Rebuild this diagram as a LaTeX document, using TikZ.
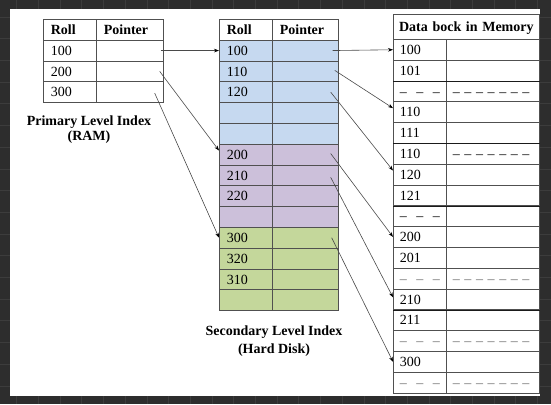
\documentclass[tikz,border=0pt]{standalone}
\usepackage{fontspec}
\setmainfont{Liberation Serif}
\usetikzlibrary{arrows.meta,positioning,calc}
\definecolor{backdrop}{HTML}{2D2D2D}
\definecolor{backgrid}{HTML}{3C3C3C}
\definecolor{rule}{HTML}{505050}
\definecolor{darkrule}{HTML}{1A1A1A}
\definecolor{diskblue}{HTML}{C6D9F0}
\definecolor{diskpurple}{HTML}{CCC0DA}
\definecolor{diskgreen}{HTML}{C4D79B}
\definecolor{linkgray}{HTML}{4A4A4A}
\definecolor{dashgray}{HTML}{707070}
\newcommand{\dashL}{--\hspace{9.5pt}--\hspace{9.5pt}--}
\newcommand{\dashR}{--\hspace{4.6pt}--\hspace{4.6pt}--\hspace{4.6pt}--\hspace{4.6pt}--\hspace{4.6pt}--\hspace{4.6pt}--}
\tikzset{
  cell/.style={draw=rule,line width=0.7pt,anchor=north west,
               inner xsep=7.5pt,inner ysep=0pt,minimum height=20.8pt,
               text height=9.8pt,text depth=0.5pt,align=left,
               font=\fontsize{14}{16}\selectfont},
  head/.style={font=\bfseries\fontsize{14}{16}\selectfont},
  caption/.style={align=center,font=\bfseries\fontsize{14}{15}\selectfont},
  thickrule/.style={draw=darkrule,line width=1.2pt},
  ptrarrow/.style={-{Stealth[length=5pt,width=3.6pt,color=black]},
                   draw=linkgray,line width=0.6pt}
}
\begin{document}
\begin{tikzpicture}[x=1pt,y=-1pt]
  \useasboundingbox (0,0) rectangle (551,404);
  % dark backdrop with its faint grid
  \fill[backdrop] (0,0) rectangle (551,404);
  \foreach \g in {0,...,25}
    \draw[backgrid,line width=0.8pt] ({16.7+\g*21.7},0) -- ({16.7+\g*21.7},404);
  \foreach \g in {0,...,18}
    \draw[backgrid,line width=0.8pt] (0,{17+\g*21.7}) -- (551,{17+\g*21.7});
  \fill[white] (10,9) rectangle (540,396);

  % primary level index
  \node[cell,head,minimum width=53pt,text width=38pt] (prollh) at (43,19) {Roll};
  \node[cell,head,minimum width=67pt,text width=52pt] (pptrh) at (96,19) {Pointer};
  \foreach \i/\r in {1/100,2/200,3/300} {
    \node[cell,minimum width=53pt,text width=38pt] (p\i) at (43,{19+\i*20.8}) {\r};
    \node[cell,minimum width=67pt] (pp\i) at (96,{19+\i*20.8}) {};
  }
  \node[caption] (plabel) at (89,130) {Primary Level Index\\(RAM)};

  % secondary level index
  \node[cell,head,minimum width=53pt,text width=38pt] (srollh) at (219,19) {Roll};
  \node[cell,head,minimum width=66pt,text width=51pt] (sptrh) at (272,19) {Pointer};
  \foreach \i/\r/\c in {1/100/diskblue,2/110/diskblue,3/120/diskblue,
                        4/{}/diskblue,5/{}/diskblue,
                        6/200/diskpurple,7/210/diskpurple,8/220/diskpurple,9/{}/diskpurple,
                        10/300/diskgreen,11/320/diskgreen,12/310/diskgreen,13/{}/diskgreen} {
    \node[cell,fill=\c,minimum width=53pt,text width=38pt] (s\i) at (219,{19+\i*20.8}) {\r};
    \node[cell,fill=\c,minimum width=66pt] (sp\i) at (272,{19+\i*20.8}) {};
  }
  \node[caption,font=\bfseries\fontsize{14}{18}\selectfont] (slabel) at (274,341)
    {Secondary Level Index\\(Hard Disk)};

  % data block in memory
  \node[cell,head,minimum width=146pt,minimum height=25pt,inner xsep=2pt,
        text width=142pt,align=center] (dhead) at (393,14) {Data bock in Memory};
  \foreach \i/\r/\v in {1/100/{},2/101/{},3/\dashL/\dashR,4/110/{},5/111/{},
                        6/110/\dashR,7/120/{},8/121/{},9/\dashL/{},10/200/{},11/201/{},
                        12/{\color{dashgray}\dashL}/{\color{dashgray}\dashR},13/210/{},14/211/{},
                        15/{\color{dashgray}\dashL}/{\color{dashgray}\dashR},16/300/{},
                        17/{\color{dashgray}\dashL}/{\color{dashgray}\dashR}} {
    \node[cell,minimum width=53pt,inner xsep=6.5pt,text width=40pt] (d\i) at (393,{39+(\i-1)*20.8}) {\r};
    \node[cell,minimum width=93pt,inner xsep=6.5pt,text width=80pt] (dv\i) at (446,{39+(\i-1)*20.8}) {\v};
  }
  \foreach \i in {2,5,8,13}
    \draw[thickrule] (d\i.south west) -- (dv\i.south east);

  % pointers
  \draw[ptrarrow] ([xshift=-3pt]pp1.east) -- (s1.west);
  \draw[ptrarrow] ([xshift=-4pt]pp2.east) -- ([yshift=4pt]s6.west);
  \draw[ptrarrow] ([xshift=-9pt,yshift=-1pt]pp3.east) -- (s10.west);
  \draw[ptrarrow] ([xshift=-6pt]sp1.east) -- (d1.west);
  \draw[ptrarrow] ([xshift=-4pt,yshift=1pt]sp2.east) -- ([yshift=4pt]d4.west);
  \draw[ptrarrow] ([xshift=-8pt]sp3.east) -- ([yshift=4pt]d7.west);
  \draw[ptrarrow] ([xshift=-8pt,yshift=1pt]sp6.east) -- (d10.west);
  \draw[ptrarrow] ([xshift=-8pt,yshift=-2pt]sp7.east) -- ([yshift=2pt]d13.west);
  \draw[ptrarrow] ([xshift=-7pt]sp10.east) -- (d16.west);
\end{tikzpicture}
\end{document}
